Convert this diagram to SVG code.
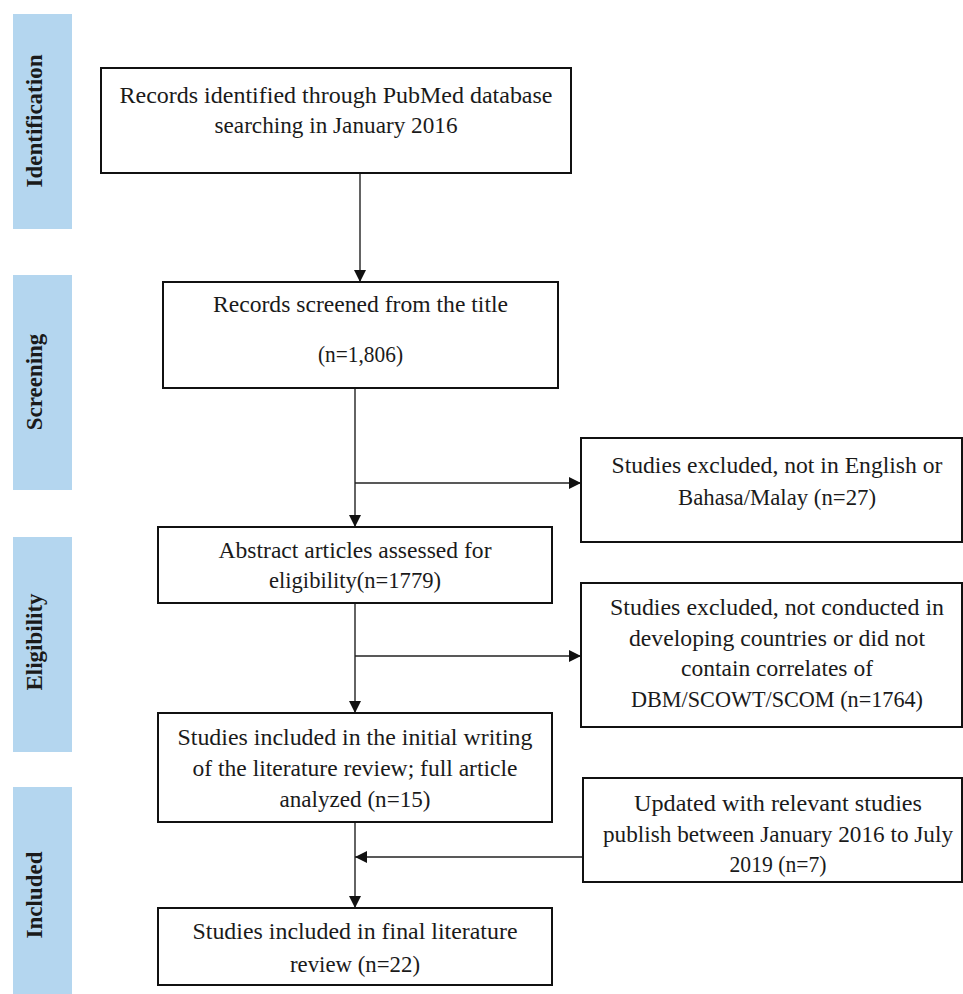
<svg xmlns="http://www.w3.org/2000/svg" width="963" height="994" viewBox="0 0 963 994">
<style>
.bg{fill:#ffffff}
.bar{fill:#b4d6ef}
.box{fill:#ffffff;stroke:#111111;stroke-width:2}
.t{font-family:"Liberation Serif","Times New Roman",serif;font-size:22.5px;fill:#1a1a1a;text-anchor:middle}
.side{font-family:"Liberation Serif","Times New Roman",serif;font-size:23px;font-weight:bold;fill:#1a1a1a;text-anchor:middle}
.conn{stroke:#222222;stroke-width:1.4;fill:none}
</style>
<defs>
<marker id="ah" viewBox="0 0 12 12" refX="12" refY="6" markerWidth="12" markerHeight="12" markerUnits="userSpaceOnUse" orient="auto">
<path d="M0,0 L12,6 L0,12 z" fill="#111111"/>
</marker>
</defs>
<rect class="bg" x="0" y="0" width="963" height="994"/>

<g id="stage-identification">
<rect class="bar" x="13" y="14" width="59" height="215"/>
<text class="side" transform="translate(42,121) rotate(-90)">Identification</text>
</g>
<g id="stage-screening">
<rect class="bar" x="13" y="275" width="59" height="215"/>
<text class="side" transform="translate(42,382) rotate(-90)">Screening</text>
</g>
<g id="stage-eligibility">
<rect class="bar" x="13" y="537" width="59" height="215"/>
<text class="side" transform="translate(42,642) rotate(-90)">Eligibility</text>
</g>
<g id="stage-included">
<rect class="bar" x="13" y="787" width="59" height="207"/>
<text class="side" transform="translate(42,895) rotate(-90)">Included</text>
</g>

<g id="connectors">
<line class="conn" x1="360" y1="173" x2="360" y2="282" marker-end="url(#ah)"/>
<line class="conn" x1="355" y1="388" x2="355" y2="527" marker-end="url(#ah)"/>
<line class="conn" x1="355" y1="483" x2="581" y2="483" marker-end="url(#ah)"/>
<line class="conn" x1="355" y1="603" x2="355" y2="713" marker-end="url(#ah)"/>
<line class="conn" x1="355" y1="656" x2="581" y2="656" marker-end="url(#ah)"/>
<line class="conn" x1="355" y1="822" x2="355" y2="908" marker-end="url(#ah)"/>
<line class="conn" x1="583" y1="857" x2="355" y2="857" marker-end="url(#ah)"/>
</g>

<g id="records-identified">
<rect class="box" x="101" y="68" width="470" height="105"/>
<text class="t" x="336" y="103" textLength="433" lengthAdjust="spacingAndGlyphs">Records identified through PubMed database</text>
<text class="t" x="336" y="133" textLength="243" lengthAdjust="spacingAndGlyphs">searching in January 2016</text>
</g>

<g id="records-screened">
<rect class="box" x="163" y="282" width="395" height="106"/>
<text class="t" x="360.5" y="312" textLength="295" lengthAdjust="spacingAndGlyphs">Records screened from the title</text>
<text class="t" x="360.5" y="362" textLength="85" lengthAdjust="spacingAndGlyphs">(n=1,806)</text>
</g>

<g id="excluded-language">
<rect class="box" x="581" y="438" width="381" height="104"/>
<text class="t" x="777" y="473" textLength="331" lengthAdjust="spacingAndGlyphs">Studies excluded, not in English or</text>
<text class="t" x="777" y="505" textLength="198" lengthAdjust="spacingAndGlyphs">Bahasa/Malay (n=27)</text>
</g>

<g id="abstract-assessed">
<rect class="box" x="158" y="527" width="394" height="76"/>
<text class="t" x="355" y="558" textLength="273" lengthAdjust="spacingAndGlyphs">Abstract articles assessed for</text>
<text class="t" x="355" y="588" textLength="172" lengthAdjust="spacingAndGlyphs">eligibility(n=1779)</text>
</g>

<g id="excluded-developing">
<rect class="box" x="581" y="583" width="381" height="144"/>
<text class="t" x="777" y="615" textLength="334" lengthAdjust="spacingAndGlyphs">Studies excluded, not conducted in</text>
<text class="t" x="777" y="646" textLength="296" lengthAdjust="spacingAndGlyphs">developing countries or did not</text>
<text class="t" x="777" y="676" textLength="192" lengthAdjust="spacingAndGlyphs">contain correlates of</text>
<text class="t" x="777" y="707" textLength="292" lengthAdjust="spacingAndGlyphs">DBM/SCOWT/SCOM (n=1764)</text>
</g>

<g id="initial-included">
<rect class="box" x="158" y="713" width="394" height="109"/>
<text class="t" x="355" y="745" textLength="355" lengthAdjust="spacingAndGlyphs">Studies included in the initial writing</text>
<text class="t" x="355" y="776" textLength="325" lengthAdjust="spacingAndGlyphs">of the literature review; full article</text>
<text class="t" x="355" y="807" textLength="151" lengthAdjust="spacingAndGlyphs">analyzed (n=15)</text>
</g>

<g id="updated-studies">
<rect class="box" x="583" y="778" width="379" height="104"/>
<text class="t" x="778" y="811" textLength="288" lengthAdjust="spacingAndGlyphs">Updated with relevant studies</text>
<text class="t" x="778" y="842" textLength="350" lengthAdjust="spacingAndGlyphs">publish between January 2016 to July</text>
<text class="t" x="778" y="872" textLength="97" lengthAdjust="spacingAndGlyphs">2019 (n=7)</text>
</g>

<g id="final-included">
<rect class="box" x="158" y="908" width="394" height="77"/>
<text class="t" x="355" y="939" textLength="325" lengthAdjust="spacingAndGlyphs">Studies included in final literature</text>
<text class="t" x="355" y="972" textLength="130" lengthAdjust="spacingAndGlyphs">review (n=22)</text>
</g>
</svg>
